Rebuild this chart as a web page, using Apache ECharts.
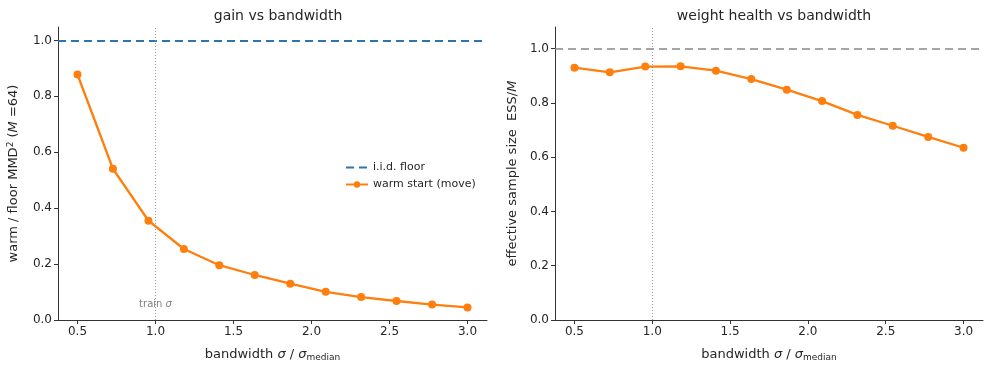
<!DOCTYPE html>
<html>
<head>
<meta charset="utf-8">
<script src="https://cdn.jsdelivr.net/npm/echarts@6/dist/echarts.min.js"></script>
<style>
  html, body { margin: 0; padding: 0; background: #fff; }
  #chart { width: 984px; height: 367px; }
</style>
</head>
<body>
<div id="chart"></div>
<script>
// bandwidth grid (sigma / sigma_median)
const bandwidths = [0.5, 0.727, 0.955, 1.182, 1.409, 1.636, 1.864, 2.091, 2.318, 2.545, 2.773, 3.0];
// warm / floor MMD^2 ratio
const warmRatio = [0.878, 0.541, 0.355, 0.254, 0.196, 0.161, 0.130, 0.101, 0.082, 0.068, 0.055, 0.045];
// ESS / M
const essFrac = [0.930, 0.913, 0.934, 0.935, 0.919, 0.888, 0.849, 0.807, 0.756, 0.716, 0.675, 0.635];

const floorValue = 1.0;
const trainSigma = 1.0;
const xTicks = [0.5, 1.0, 1.5, 2.0, 2.5, 3.0];
const yTicks = [0, 0.2, 0.4, 0.6, 0.8, 1.0];

const FONT = "DejaVu Sans";
const TXT = "#262626";
const SPINE = "#333";
const ORANGE = "#ff7f0e";
const BLUE = "#2f74ae";

const chart = echarts.init(document.getElementById("chart"));

function xAxisCfg(gridIndex) {
  return {
    type: "value",
    gridIndex,
    min: 0.375,
    max: 3.125,
    name: "{n|bandwidth }{i|σ}{n| / }{i|σ}{s|median}",
    nameLocation: "middle",
    nameGap: 27,
    nameTextStyle: {
      rich: {
        n: { fontFamily: FONT, fontSize: 13, color: TXT },
        i: { fontFamily: FONT, fontSize: 13, fontStyle: "italic", color: TXT },
        s: { fontFamily: FONT, fontSize: 9, color: TXT, padding: [6, 0, 0, 0] },
      },
    },
    axisLine: { show: true, onZero: false, lineStyle: { color: SPINE, width: 1 } },
    axisTick: { show: true, length: 4, lineStyle: { color: SPINE }, customValues: xTicks },
    axisLabel: {
      fontFamily: FONT, fontSize: 12, color: TXT, margin: 6,
      customValues: xTicks,
      formatter: (v) => v.toFixed(1),
    },
    splitLine: { show: false },
  };
}

function yAxisCfg(gridIndex, max, name, gap) {
  return {
    type: "value",
    gridIndex,
    min: 0,
    max,
    name,
    nameLocation: "middle",
    nameGap: gap,
    nameTextStyle: {
      rich: {
        n: { fontFamily: FONT, fontSize: 13, color: TXT },
        i: { fontFamily: FONT, fontSize: 13, fontStyle: "italic", color: TXT },
        sup: { fontFamily: FONT, fontSize: 9, color: TXT, padding: [0, 0, 6, 0] },
      },
    },
    axisLine: { show: true, onZero: false, lineStyle: { color: SPINE, width: 1 } },
    axisTick: { show: true, length: 4, lineStyle: { color: SPINE }, customValues: yTicks },
    axisLabel: {
      fontFamily: FONT, fontSize: 12, color: TXT, margin: 6,
      customValues: yTicks,
      formatter: (v) => v.toFixed(1),
    },
    splitLine: { show: false },
  };
}

const option = {
  animation: false,
  backgroundColor: "#fff",
  title: [
    {
      text: "gain vs bandwidth",
      left: 273, top: 4, textAlign: "center",
      textStyle: { fontFamily: FONT, fontSize: 14, fontWeight: "normal", color: TXT },
    },
    {
      text: "weight health vs bandwidth",
      left: 769, top: 4, textAlign: "center",
      textStyle: { fontFamily: FONT, fontSize: 14, fontWeight: "normal", color: TXT },
    },
  ],
  legend: {
    left: 340, top: 157,
    orient: "vertical",
    itemWidth: 22, itemHeight: 8, itemGap: 6,
    textStyle: { fontFamily: FONT, fontSize: 11, color: TXT },
    data: [
      { name: "i.i.d. floor", itemStyle: { opacity: 0 } },
      { name: "warm start (move)" },
    ],
  },
  grid: [
    { left: 58, right: 497, top: 27, bottom: 47, containLabel: false, outerBoundsMode: "none" },
    { left: 555, right: 1, top: 27, bottom: 47, containLabel: false, outerBoundsMode: "none" },
  ],
  xAxis: [xAxisCfg(0), xAxisCfg(1)],
  yAxis: [
    yAxisCfg(0, 1.048, "{n|warm / floor MMD}{sup|2}{n| (}{i|M}{n| =64)}", 37),
    yAxisCfg(1, 1.08, "{n|effective sample size  ESS/}{i|M}", 36),
  ],
  series: [
    {
      name: "i.i.d. floor",
      type: "line",
      xAxisIndex: 0, yAxisIndex: 0,
      data: [],
      symbol: "none",
      color: BLUE,
      lineStyle: { color: BLUE, type: [8, 5], width: 2 },
      markLine: {
        silent: true,
        symbol: "none",
        label: { show: false },
        lineStyle: { color: BLUE, type: [8, 5], width: 2 },
        data: [{ yAxis: floorValue }],
      },
    },
    {
      name: "warm start (move)",
      type: "line",
      xAxisIndex: 0, yAxisIndex: 0,
      data: bandwidths.map((b, i) => [b, warmRatio[i]]),
      symbol: "circle",
      symbolSize: 8,
      color: ORANGE,
      lineStyle: { color: ORANGE, width: 2.3 },
      itemStyle: { color: ORANGE },
      markLine: {
        silent: true,
        symbol: "none",
        label: { show: false },
        lineStyle: { color: "#999", type: [1, 2], width: 1 },
        data: [{ xAxis: trainSigma }],
      },
      markPoint: {
        silent: true,
        symbol: "circle",
        symbolSize: 0,
        label: {
          show: true,
          position: "inside",
          formatter: "{n|train }{i|σ}",
          rich: {
            n: { fontFamily: FONT, fontSize: 10, color: "#808080" },
            i: { fontFamily: FONT, fontSize: 10, fontStyle: "italic", color: "#808080" },
          },
        },
        data: [{ coord: [trainSigma, 0.057] }],
      },
      z: 3,
    },
    {
      name: "ess",
      type: "line",
      xAxisIndex: 1, yAxisIndex: 1,
      data: bandwidths.map((b, i) => [b, essFrac[i]]),
      symbol: "circle",
      symbolSize: 8,
      color: ORANGE,
      lineStyle: { color: ORANGE, width: 2.3 },
      itemStyle: { color: ORANGE },
      markLine: {
        silent: true,
        symbol: "none",
        label: { show: false },
        data: [
          { yAxis: floorValue, lineStyle: { color: "#888", type: [8, 5], width: 1.6 } },
          { xAxis: trainSigma, lineStyle: { color: "#999", type: [1, 2], width: 1 } },
        ],
      },
      z: 3,
    },
  ],
};

chart.setOption(option);
</script>
</body>
</html>
